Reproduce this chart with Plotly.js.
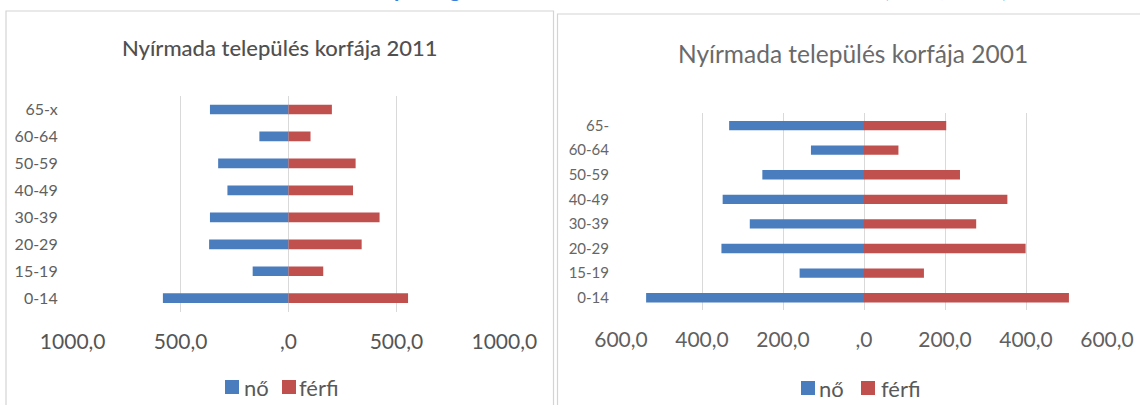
<!DOCTYPE html>
<html>
<head>
<meta charset="utf-8">
<script src="https://cdn.plot.ly/plotly-3.0.1.min.js"></script>
<style>
  html, body { margin: 0; padding: 0; background: #ffffff; }
  #chart { width: 1140px; height: 405px; }
</style>
</head>
<body>
<div id="chart"></div>
<script>
// ---- data ----
const ageGroups = ['0-14', '15-19', '20-29', '30-39', '40-49', '50-59', '60-64', '65-x'];
const ageGroups2001 = ['0-14', '15-19', '20-29', '30-39', '40-49', '50-59', '60-64', '65-'];

const no2011    = [582, 166, 368, 364, 283, 326, 135, 364];
const ferfi2011 = [554, 161, 339, 422, 299, 311, 102, 201];

const no2001    = [538, 159, 352, 282, 349, 251, 131, 333];
const ferfi2001 = [506, 148, 399, 277, 354, 237, 85, 203];

const tickVals2011 = [-1000, -500, 0, 500, 1000];
const tickText2011 = ['1000,0', '500,0', ',0', '500,0', '1000,0'];
const tickVals2001 = [-600, -400, -200, 0, 200, 400, 600];
const tickText2001 = ['600,0', '400,0', '200,0', ',0', '200,0', '400,0', '600,0'];

const seriesNames = ['nő', 'férfi'];
const title2011 = 'Nyírmada település korfája 2011';
const title2001 = 'Nyírmada település korfája 2001';
const pageTitle = 'Az állandó népesség korösszetétele nemenként és korévenként (2001, 2011)';

// ---- style ----
const W = 1140, H = 405;
const px = x => x / W;
const py = y => 1 - y / H;
const BLUE = '#4a7dbd';
const RED = '#c0504d';
const FONT = 'Lato, "Open Sans", sans-serif';
const GRID = '#d9d9d9';

const neg = arr => arr.map(v => -v);

const traces = [
  { type: 'bar', orientation: 'h', name: seriesNames[0], y: ageGroups, x: neg(no2011),
    xaxis: 'x', yaxis: 'y', width: 0.36, marker: { color: BLUE }, showlegend: false,
    hovertemplate: '%{y}: %{customdata}<extra>nő</extra>', customdata: no2011 },
  { type: 'bar', orientation: 'h', name: seriesNames[1], y: ageGroups, x: ferfi2011,
    xaxis: 'x', yaxis: 'y', width: 0.36, marker: { color: RED }, showlegend: false },
  { type: 'bar', orientation: 'h', name: seriesNames[0], y: ageGroups2001, x: neg(no2001),
    xaxis: 'x2', yaxis: 'y2', width: 0.38, marker: { color: BLUE }, showlegend: false,
    hovertemplate: '%{y}: %{customdata}<extra>nő</extra>', customdata: no2001 },
  { type: 'bar', orientation: 'h', name: seriesNames[1], y: ageGroups2001, x: ferfi2001,
    xaxis: 'x2', yaxis: 'y2', width: 0.38, marker: { color: RED }, showlegend: false }
];

function legendItems(sqX1, txtX1, sqX2, txtX2, yc, sq, color) {
  const shapes = [
    { type: 'rect', xref: 'paper', yref: 'paper', x0: px(sqX1), x1: px(sqX1 + sq),
      y0: py(yc + sq / 2), y1: py(yc - sq / 2), fillcolor: BLUE, line: { width: 0 } },
    { type: 'rect', xref: 'paper', yref: 'paper', x0: px(sqX2), x1: px(sqX2 + sq),
      y0: py(yc + sq / 2), y1: py(yc - sq / 2), fillcolor: RED, line: { width: 0 } }
  ];
  const anns = [
    { text: seriesNames[0], x: px(txtX1), y: py(yc), xref: 'paper', yref: 'paper',
      xanchor: 'left', yanchor: 'middle', showarrow: false,
      font: { family: FONT, size: 22, color: color } },
    { text: seriesNames[1], x: px(txtX2), y: py(yc), xref: 'paper', yref: 'paper',
      xanchor: 'left', yanchor: 'middle', showarrow: false,
      font: { family: FONT, size: 22, color: color } }
  ];
  return { shapes, anns };
}

const leg1 = legendItems(225, 242, 282, 297, 387, 14, '#595959');
const leg2 = legendItems(801, 817, 861, 879, 388, 14, '#595959');

const layout = {
  width: W, height: H,
  margin: { l: 0, r: 0, t: 0, b: 0, pad: 0 },
  paper_bgcolor: '#ffffff', plot_bgcolor: 'rgba(0,0,0,0)',
  barmode: 'relative',
  showlegend: false,
  font: { family: FONT, color: '#595959' },
  xaxis: {
    domain: [px(72.7), px(504.3)], anchor: 'y', range: [-1000, 1000],
    tickvals: tickVals2011, ticktext: tickText2011,
    showgrid: true, gridcolor: GRID, gridwidth: 1, zeroline: false, showline: false,
    ticks: '', ticklabelstandoff: 15,
    tickfont: { family: FONT, size: 21, color: '#555555' }, fixedrange: true
  },
  yaxis: {
    domain: [py(311.7), py(96)], anchor: 'x', type: 'category',
    categoryorder: 'array', categoryarray: ageGroups,
    showgrid: false, zeroline: false, showline: false, ticks: '', ticklabelstandoff: 14,
    tickfont: { family: FONT, size: 16, color: '#606060' }, fixedrange: true
  },
  xaxis2: {
    domain: [px(621), px(1107)], anchor: 'y2', range: [-600, 600],
    tickvals: tickVals2001, ticktext: tickText2001,
    showgrid: true, gridcolor: GRID, gridwidth: 1, zeroline: false, showline: false,
    ticks: '', ticklabelstandoff: 15,
    tickfont: { family: FONT, size: 21, color: '#606060' }, fixedrange: true
  },
  yaxis2: {
    domain: [py(310), py(113.3)], anchor: 'x2', type: 'category',
    categoryorder: 'array', categoryarray: ageGroups2001,
    showgrid: false, zeroline: false, showline: false, ticks: '', ticklabelstandoff: 11,
    tickfont: { family: FONT, size: 15, color: '#666666' }, fixedrange: true
  },
  shapes: [
    { type: 'rect', xref: 'paper', yref: 'paper', x0: px(6), x1: px(553.5), y0: py(420), y1: py(11),
      line: { color: '#d4d4d4', width: 1.2 }, fillcolor: 'rgba(0,0,0,0)', layer: 'below' },
    { type: 'rect', xref: 'paper', yref: 'paper', x0: px(557.5), x1: px(1160), y0: py(420), y1: py(14),
      line: { color: '#d4d4d4', width: 1.2 }, fillcolor: 'rgba(0,0,0,0)', layer: 'below' },
    ...leg1.shapes, ...leg2.shapes
  ],
  annotations: [
    { text: pageTitle, x: px(1010), y: py(4.5), xref: 'paper', yref: 'paper',
      xanchor: 'right', yanchor: 'bottom', showarrow: false,
      font: { family: FONT, size: 22, color: '#3c7fd8', weight: 700 } },
    { text: title2011, x: px(280), y: py(48), xref: 'paper', yref: 'paper',
      xanchor: 'center', yanchor: 'middle', showarrow: false,
      font: { family: FONT, size: 22, color: '#505050', weight: 500 } },
    { text: title2001, x: px(852.5), y: py(53.5), xref: 'paper', yref: 'paper',
      xanchor: 'center', yanchor: 'middle', showarrow: false,
      font: { family: FONT, size: 24.5, color: '#6a6a6a' } },
    ...leg1.anns, ...leg2.anns
  ]
};

Plotly.newPlot('chart', traces, layout, { displayModeBar: false, staticPlot: false, responsive: false });
</script>
</body>
</html>
